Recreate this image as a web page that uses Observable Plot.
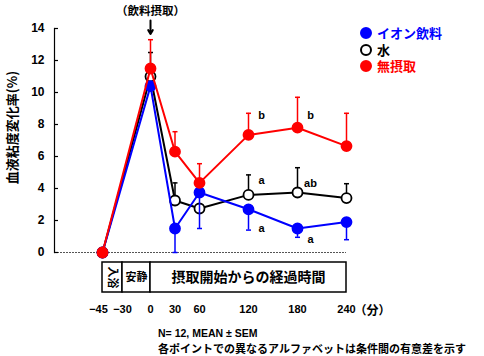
<!DOCTYPE html>
<html><head><meta charset="utf-8">
<script src="https://cdn.jsdelivr.net/npm/d3@7"></script>
<script src="https://cdn.jsdelivr.net/npm/@observablehq/plot@0.6"></script>
<style>
body{margin:0;background:#fff;}
#wrap{position:relative;width:484px;height:356px;font-family:"Liberation Sans","Noto Sans CJK JP",sans-serif;overflow:hidden;}
#wrap svg{position:absolute;left:0;top:0;}
.legend{position:absolute;left:360px;top:25px;font-weight:bold;font-size:13px;font-family:"Noto Sans CJK JP",sans-serif;}
.legend .row{display:flex;align-items:center;height:16.5px;}
.legend .sw{display:inline-block;width:12px;height:12px;border-radius:50%;box-sizing:border-box;margin-right:5px;}
.legend .tx{display:inline-block;height:16px;line-height:16px;overflow:visible;}
.note{position:absolute;left:158px;font-weight:bold;white-space:nowrap;height:14px;line-height:14px;}
</style></head><body><div id="wrap"></div><script>
// ---- data ----
const times = [-45, 0, 30, 60, 120, 180, 240];
const seriesNames = ["イオン飲料", "水", "無摂取"];
const ionValues   = [0, 10.4, 1.5, 3.75, 2.7, 1.5, 1.9];
const ionSem      = [null, null, 1.5, 2.25, 1.3, 0.55, 1.1];
const waterValues = [0, 11.0, 3.25, 2.75, 3.6, 3.75, 3.4];
const waterSem    = [null, 1.5, 1.1, null, 1.25, 1.55, 0.9];
const noneValues  = [0, 11.5, 6.3, 4.35, 7.35, 7.8, 6.65];
const noneSem     = [null, 1.8, 1.25, 1.2, 1.35, 1.9, 2.05];
const yTicks = [0, 2, 4, 6, 8, 10, 12, 14];
const xTicks = [-45, -30, 0, 30, 60, 120, 180, 240];
const phaseLabels = ["入浴", "安静", "摂取開始からの経過時間"];
const phaseStarts = [-45, -30, 0];
const phaseEnds   = [-30, 0, 240];
const letterSeries = ["無摂取", "無摂取", "水", "水", "イオン飲料", "イオン飲料"];
const letterTimes  = [120, 180, 120, 180, 120, 180];
const letterTexts  = ["b", "b", "a", "ab", "a", "a"];
const letterY      = [8.55, 8.55, 4.5, 4.3, 1.5, 0.8];
const yLabel = "血液粘度変化率(%)";
const intakeLabel = "（飲料摂取）";
const intakeTime = 0;
const unitLabel = "（分）";
const notes = ["N= 12, MEAN ± SEM", "各ポイントでの異なるアルファベットは条件間の有意差を示す"];

// ---- styles ----
const strokes = {"イオン飲料": "#0000ff", "水": "#000000", "無摂取": "#ff0000"};
const fills = {"イオン飲料": "#0000ff", "水": "#ffffff", "無摂取": "#ff0000"};
const errDir = {"イオン飲料": -1, "水": 1, "無摂取": 1};

const seriesData = {
  "イオン飲料": [ionValues, ionSem],
  "水": [waterValues, waterSem],
  "無摂取": [noneValues, noneSem]
};

const capSymbol = {draw(ctx, size) { const w = Math.sqrt(size / Math.PI); ctx.moveTo(-w, 0); ctx.lineTo(w, 0); }};

const boxTop = -0.625, boxBottom = -2.5, boxMid = -1.56;
const fmt = d => d < 0 ? "−" + (-d) : String(d);

const marks = [];
marks.push(Plot.ruleY([0], {stroke: "#555", strokeWidth: 1, strokeDasharray: "2,1"}));
marks.push(Plot.frame({anchor: "left", stroke: "black", strokeWidth: 1.2}));
marks.push(Plot.tickY(yTicks, {y: d => d, insetRight: 288, stroke: "black", strokeWidth: 1.2}));
marks.push(Plot.axisY({ticks: yTicks, tickSize: 0, tickPadding: 10, fontWeight: "bold", fontSize: 12, label: null}));
marks.push(Plot.axisX({ticks: xTicks.slice(0, 1), tickSize: 0, tickPadding: 53, dx: -4, fontWeight: "bold", fontSize: 11, label: null, tickFormat: fmt}));
marks.push(Plot.axisX({ticks: xTicks.slice(1), tickSize: 0, tickPadding: 53, fontWeight: "bold", fontSize: 11, label: null, tickFormat: fmt}));
marks.push(Plot.text([unitLabel], {x: 240, y: 0, dx: 26, dy: 59, fontWeight: "bold", fontSize: 12, fontFamily: "Noto Sans CJK JP"}));

const phases = phaseLabels.map((label, i) => ({label, start: phaseStarts[i], end: phaseEnds[i]}));
marks.push(Plot.rect(phases, {x1: "start", x2: "end", y1: boxTop, y2: boxBottom, fill: "white", stroke: "black", strokeWidth: 1.5}));
marks.push(Plot.text(phases.slice(0, 1), {x: d => (d.start + d.end) / 2, y: boxMid, text: "label", rotate: 90, fontSize: 11, fontWeight: "bold", fontFamily: "Noto Sans CJK JP"}));
marks.push(Plot.text(phases.slice(1, 2), {x: d => (d.start + d.end) / 2, y: boxMid, text: "label", fontSize: 11, fontWeight: "bold", fontFamily: "Noto Sans CJK JP"}));
marks.push(Plot.text(phases.slice(2), {x: d => (d.start + d.end) / 2, y: boxMid, text: "label", fontSize: 14, fontWeight: "bold", fontFamily: "Noto Sans CJK JP"}));

marks.push(Plot.text([yLabel], {frameAnchor: "left", textAnchor: "middle", rotate: -90, dx: -42, dy: -13, fontSize: 13, fontWeight: "bold", fontFamily: "Noto Sans CJK JP"}));
marks.push(Plot.text([intakeLabel], {x: intakeTime, y: 15.1, fontSize: 11.5, fontWeight: "bold", fontFamily: "Noto Sans CJK JP"}));
marks.push(Plot.arrow([intakeTime], {x1: d => d, x2: d => d, y1: 14.5, y2: 13.65, stroke: "black", strokeWidth: 2, headLength: 6}));

for (const name of ["水", "イオン飲料", "無摂取"]) {
  const [vals, sems] = seriesData[name];
  const rows = times.map((t, i) => ({t, v: vals[i]}));
  const errs = times.map((t, i) => ({t, v: vals[i], end: sems[i] == null ? null : vals[i] + errDir[name] * sems[i]})).filter(d => d.end != null);
  marks.push(Plot.line(rows, {x: "t", y: "v", stroke: strokes[name], strokeWidth: 2}));
  marks.push(Plot.ruleX(errs, {x: "t", y1: "v", y2: "end", stroke: strokes[name], strokeWidth: 1.5}));
  marks.push(Plot.dot(errs, {x: "t", y: "end", symbol: capSymbol, r: 2.5, stroke: strokes[name], strokeWidth: 1.5, fill: "none"}));
  marks.push(Plot.dot(rows, {x: "t", y: "v", r: 5, fill: fills[name], stroke: strokes[name], strokeWidth: 1.8}));
}

const letters = letterTexts.map((text, i) => ({series: letterSeries[i], t: letterTimes[i], y: letterY[i], text}));
marks.push(Plot.text(letters, {x: "t", y: "y", text: "text", dx: 13, fontSize: 11, fontWeight: "bold", fill: "black"}));

const chart = Plot.plot({
  width: 484, height: 356,
  marginTop: 28, marginBottom: 104, marginLeft: 54, marginRight: 138,
  style: {fontFamily: "'Liberation Sans','Noto Sans CJK JP',sans-serif", background: "white", overflow: "visible"},
  x: {type: "linear", domain: [-45, -30, 0, 240], range: [102, 122, 150, 346]},
  y: {domain: [0, 14]},
  marks
});
const wrap = document.getElementById("wrap");
wrap.appendChild(chart);

const legend = document.createElement("div");
legend.className = "legend";
for (const name of seriesNames) {
  const row = document.createElement("div"); row.className = "row";
  const sw = document.createElement("span"); sw.className = "sw";
  sw.style.background = fills[name]; sw.style.border = `2px solid ${strokes[name]}`;
  const tx = document.createElement("span"); tx.className = "tx"; tx.textContent = name; tx.style.color = strokes[name];
  row.appendChild(sw); row.appendChild(tx); legend.appendChild(row);
}
wrap.appendChild(legend);

const noteStyles = [
  {top: 326, size: "10.5px", family: "'Liberation Sans','Noto Sans CJK JP',sans-serif"},
  {top: 341, size: "11px", family: "'Noto Sans CJK JP',sans-serif"}
];
notes.forEach((n, i) => {
  const d = document.createElement("div"); d.className = "note"; d.textContent = n;
  d.style.top = noteStyles[i].top + "px";
  d.style.fontSize = noteStyles[i].size;
  d.style.fontFamily = noteStyles[i].family;
  wrap.appendChild(d);
});
</script></body></html>
